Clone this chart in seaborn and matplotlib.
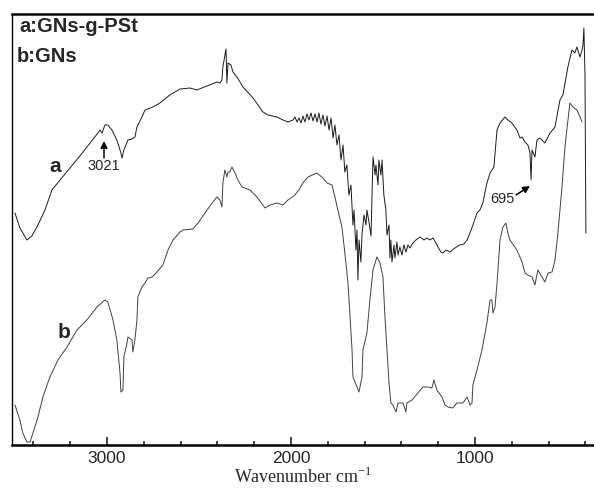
#!/usr/bin/env python3
"""FTIR spectra of GNs-g-PSt (a) and GNs (b), transmittance in arbitrary units."""
import matplotlib
matplotlib.use("Agg")
import matplotlib.pyplot as plt
import pandas as pd
import seaborn as sns

# ---------------------------------------------------------------------------
# data (wavenumber in cm-1, transmittance in a.u.)
# ---------------------------------------------------------------------------
WN_A = [3500, 3473, 3435, 3408, 3375, 3337, 3299, 3255, 3201, 3147, 3092, 3049,
        3038, 3027, 3011, 2995, 2973, 2946, 2924, 2918, 2908, 2886, 2864, 2848,
        2837, 2810, 2793, 2750, 2712, 2658, 2603, 2549, 2511, 2456, 2402, 2386,
        2375, 2370, 2353, 2348, 2342, 2326, 2315, 2293, 2261, 2206, 2152, 2125,
        2076, 2043, 2016, 1989, 1978, 1967, 1956, 1945, 1935, 1924, 1913, 1902,
        1891, 1880, 1869, 1858, 1848, 1837, 1826, 1815, 1804, 1793, 1782, 1771,
        1761, 1750, 1739, 1728, 1717, 1707, 1696, 1685, 1674, 1663, 1657, 1647,
        1641, 1636, 1630, 1620, 1614, 1603, 1592, 1587, 1576, 1565, 1560, 1554,
        1543, 1538, 1527, 1522, 1511, 1505, 1495, 1484, 1478, 1467, 1462, 1457,
        1451, 1440, 1435, 1424, 1418, 1408, 1397, 1386, 1375, 1364, 1353, 1337,
        1321, 1299, 1277, 1261, 1245, 1228, 1212, 1201, 1185, 1174, 1158, 1136,
        1109, 1082, 1060, 1043, 1027, 1011, 989, 973, 957, 935, 918, 897, 880,
        864, 837, 821, 799, 772, 755, 744, 728, 712, 701, 695, 690, 674, 663,
        647, 620, 592, 565, 538, 522, 495, 473, 457, 446, 429, 418, 413, 408,
        402, 397]
T_A = [232, 217, 205, 209, 220, 235, 255, 265, 277, 289, 302, 312,
       315, 312, 320, 320, 315, 305, 292, 287, 295, 305, 306, 308,
       318, 328, 335, 338, 342, 350, 356, 357, 355, 359, 363, 362,
       365, 378, 396, 362, 382, 380, 373, 368, 358, 347, 333, 330,
       328, 325, 323, 325, 328, 323, 327, 322, 329, 323, 331, 325,
       332, 324, 331, 323, 332, 321, 330, 319, 329, 315, 327, 307,
       320, 300, 310, 285, 300, 273, 280, 250, 260, 220, 235, 195,
       215, 165, 205, 183, 210, 230, 220, 235, 223, 209, 245, 288,
       270, 280, 260, 285, 270, 285, 250, 235, 210, 220, 187, 205,
       183, 200, 187, 203, 190, 198, 190, 200, 193, 200, 197, 202,
       205, 208, 205, 207, 205, 207, 202, 198, 193, 192, 195, 193,
       197, 200, 201, 205, 212, 220, 232, 235, 242, 262, 272, 278, 315,
       322, 328, 325, 322, 315, 307, 308, 303, 300, 292, 265, 295, 288, 305,
       307, 302, 312, 318, 345, 350, 378, 395, 392, 398, 388, 395, 400, 417,
       370, 212]

WN_B = [3500, 3473, 3457, 3435, 3418, 3402, 3375, 3348, 3310, 3266, 3217, 3163,
        3109, 3054, 3011, 2995, 2967, 2946, 2929, 2924, 2913, 2908, 2891, 2886,
        2864, 2859, 2848, 2837, 2832, 2810, 2793, 2777, 2755, 2728, 2696, 2668,
        2641, 2603, 2587, 2533, 2505, 2467, 2429, 2402, 2386, 2375, 2370, 2359,
        2348, 2342, 2332, 2321, 2304, 2288, 2266, 2223, 2185, 2141, 2114, 2076,
        2043, 2016, 1978, 1967, 1956, 1935, 1908, 1859, 1826, 1804, 1777, 1761,
        1745, 1723, 1707, 1690, 1679, 1668, 1663, 1641, 1630, 1614, 1609, 1587,
        1571, 1554, 1533, 1516, 1500, 1489, 1478, 1467, 1457, 1446, 1429, 1418,
        1391, 1375, 1370, 1342, 1310, 1283, 1255, 1234, 1223, 1207, 1179, 1163,
        1147, 1120, 1098, 1065, 1043, 1027, 1016, 1011, 989, 962, 935, 918, 908,
        902, 891, 880, 864, 848, 832, 821, 810, 772, 744, 728, 712, 690, 674,
        658, 636, 620, 603, 581, 565, 549, 533, 527, 511, 484, 467, 446, 429,
        418]
T_B = [40, 25, 12, 3, 3, 12, 28, 48, 68, 85, 98, 115,
       125, 138, 145, 143, 125, 105, 72, 53, 55, 88, 102, 108,
       105, 93, 105, 125, 148, 158, 162, 167, 168, 173, 180, 195,
       205, 213, 215, 216, 222, 232, 242, 248, 245, 238, 262, 275,
       268, 273, 273, 278, 272, 265, 258, 255, 248, 237, 240, 242,
       240, 245, 250, 253, 255, 262, 268, 272, 267, 262, 260, 248,
       235, 218, 192, 162, 128, 95, 68, 58, 53, 68, 95, 112,
       145, 175, 188, 182, 168, 128, 95, 62, 42, 40, 33, 42,
       42, 33, 42, 45, 52, 58, 58, 57, 65, 55, 48, 40,
       38, 37, 42, 42, 48, 40, 42, 60, 75, 95, 122, 145, 145,
       132, 138, 162, 205, 218, 222, 212, 205, 195, 183, 172, 170, 168, 160,
       175, 168, 163, 172, 173, 185, 212, 245, 258, 298, 342, 338, 335, 328,
       323]

XTICKS = [3000, 2000, 1000]
XMINOR = [3400, 3200, 2800, 2600, 2400, 2200, 1800, 1600, 1400, 1200, 800, 600, 400]

df_a = pd.DataFrame({"wavenumber": WN_A, "T": T_A})
df_b = pd.DataFrame({"wavenumber": WN_B, "T": T_B})

sns.set_style("white")
plt.rcParams["font.family"] = ["Liberation Sans", "DejaVu Sans"]
plt.rcParams["mathtext.fontset"] = "custom"
plt.rcParams["mathtext.rm"] = "Liberation Serif"

fig = plt.figure(figsize=(5.94, 4.91), dpi=100)
ax = fig.add_axes([12 / 594, 46 / 491, 582 / 594, 431 / 491])

sns.lineplot(data=df_a, x="wavenumber", y="T", color="#1a1a1a", linewidth=0.7,
             estimator=None, sort=False, ax=ax)
sns.lineplot(data=df_b, x="wavenumber", y="T", color="#404040", linewidth=0.7,
             estimator=None, sort=False, ax=ax)

ax.set_xlim(3516, 353)
ax.set_ylim(0, 431)
ax.set_yticks([])
ax.set_ylabel("")
ax.set_xticks(XTICKS)
ax.set_xticks(XMINOR, minor=True)
ax.tick_params(axis="x", which="major", direction="in", length=6, width=1.2,
               labelsize=12.5, pad=4, bottom=True)
ax.tick_params(axis="x", which="minor", direction="in", length=3, width=1.2, bottom=True)
ax.set_xlabel("Wavenumber cm$^{-1}$", family="Liberation Serif", fontsize=13, labelpad=1)

for side in ["top", "bottom"]:
    ax.spines[side].set_linewidth(1.8)
    ax.spines[side].set_color("black")
ax.spines["left"].set_linewidth(1.0)
ax.spines["left"].set_color("black")
ax.spines["right"].set_visible(False)

# legend text and curve labels
ax.text(3478, 419, "a:GNs-g-PSt", fontsize=14.5, fontweight="bold", ha="left", va="center")
ax.text(3492, 389, "b:GNs", fontsize=14.5, fontweight="bold", ha="left", va="center")
ax.text(3283, 278, "a", fontsize=15, fontweight="bold", ha="center", va="center")
ax.text(3234, 113, "b", fontsize=15, fontweight="bold", ha="center", va="center")

# peak annotations
arrow = dict(arrowstyle="-|>", color="black", lw=1.1, mutation_scale=10,
             shrinkA=0, shrinkB=0)
ax.text(3016, 279, "3021", fontsize=10.5, ha="center", va="center")
ax.annotate("", xy=(3016, 304), xytext=(3016, 287), arrowprops=arrow)
ax.text(848, 246, "695", fontsize=10.5, ha="center", va="center")
ax.annotate("", xy=(701, 259), xytext=(777, 250), arrowprops=arrow)

fig.savefig("out.png", dpi=100)
